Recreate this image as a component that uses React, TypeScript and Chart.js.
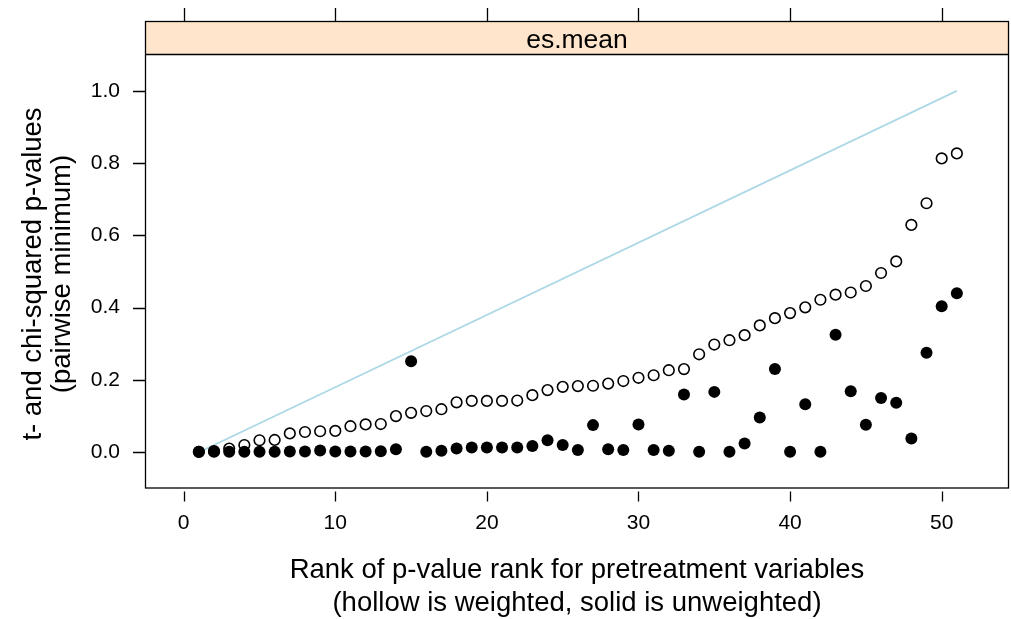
import { useEffect, useRef } from "react";
import { Chart, registerables } from "chart.js";

Chart.register(...registerables);

const RANKS = [
  1, 2, 3, 4, 5, 6, 7, 8, 9, 10, 11, 12, 13, 14, 15, 16, 17, 18, 19, 20, 21, 22, 23, 24, 25, 26,
  27, 28, 29, 30, 31, 32, 33, 34, 35, 36, 37, 38, 39, 40, 41, 42, 43, 44, 45, 46, 47, 48, 49, 50, 51,
];

// hollow = weighted
const WEIGHTED = [
  0.001, 0.003, 0.01, 0.02, 0.033, 0.034, 0.052, 0.056, 0.058, 0.059, 0.072, 0.077, 0.078, 0.1,
  0.109, 0.114, 0.119, 0.138, 0.142, 0.142, 0.142, 0.143, 0.158, 0.172, 0.181, 0.183, 0.184, 0.19,
  0.197, 0.206, 0.213, 0.227, 0.23, 0.271, 0.298, 0.31, 0.324, 0.351, 0.371, 0.385, 0.401, 0.422,
  0.436, 0.442, 0.46, 0.496, 0.528, 0.629, 0.689, 0.813, 0.827,
];

// solid = unweighted
const UNWEIGHTED = [
  0.001, 0.001, 0.001, 0.001, 0.001, 0.001, 0.002, 0.002, 0.005, 0.002, 0.002, 0.002, 0.003, 0.008,
  0.252, 0.001, 0.004, 0.01, 0.013, 0.013, 0.013, 0.013, 0.017, 0.033, 0.02, 0.006, 0.075, 0.008,
  0.006, 0.077, 0.006, 0.004, 0.16, 0.001, 0.167, 0.001, 0.024, 0.096, 0.23, 0.001, 0.133, 0.001,
  0.325, 0.169, 0.076, 0.15, 0.137, 0.038, 0.275, 0.404, 0.44,
];

const REF_X = [1, 51];
const REF_Y = [0, 1];

const X_TICKS = [0, 10, 20, 30, 40, 50];
const Y_TICKS = [0, 0.2, 0.4, 0.6, 0.8, 1.0];

const STRIP_LABEL = "es.mean";
const X_TITLE = ["Rank of p-value rank for pretreatment variables", "(hollow is weighted, solid is unweighted)"];
const Y_TITLE = ["t- and chi-squared p-values", "(pairwise minimum)"];

const FONT = "'Liberation Sans', Arial, sans-serif";

export default function App() {
  const ref = useRef<HTMLCanvasElement | null>(null);

  useEffect(() => {
    document.body.style.margin = "0";
    const canvas = ref.current;
    if (!canvas) return;

    const framePlugin = {
      id: "latticeFrame",
      beforeDraw(chart: any) {
        const ctx = chart.ctx;
        const a = chart.chartArea;
        ctx.save();
        ctx.fillStyle = "#ffffff";
        ctx.fillRect(0, 0, chart.width, chart.height);
        ctx.fillStyle = "#FFE5CC";
        ctx.fillRect(a.left, 21.5, a.right - a.left, a.top - 21.5);
        ctx.restore();
      },
      afterDraw(chart: any) {
        const ctx = chart.ctx;
        const a = chart.chartArea;
        const xs = chart.scales.x;
        const ys = chart.scales.y;
        ctx.save();
        ctx.strokeStyle = "#000000";
        ctx.lineWidth = 1.3;
        ctx.strokeRect(a.left + 0.5, 21.5, a.right - a.left - 1, a.bottom - 21.5);
        ctx.beginPath();
        ctx.moveTo(a.left, a.top + 0.5);
        ctx.lineTo(a.right, a.top + 0.5);
        ctx.stroke();
        ctx.beginPath();
        for (const v of X_TICKS) {
          const px = Math.round(xs.getPixelForValue(v)) + 0.5;
          ctx.moveTo(px, 8);
          ctx.lineTo(px, 21.5);
          ctx.moveTo(px, a.bottom + 3.5);
          ctx.lineTo(px, a.bottom + 13.5);
        }
        for (const v of Y_TICKS) {
          const py = Math.round(ys.getPixelForValue(v)) + 0.5;
          ctx.moveTo(133, py);
          ctx.lineTo(a.left, py);
        }
        ctx.stroke();
        ctx.fillStyle = "#000000";
        ctx.font = `26.5px ${FONT}`;
        ctx.textAlign = "center";
        ctx.textBaseline = "alphabetic";
        const cx = (a.left + a.right) / 2;
        ctx.fillText(STRIP_LABEL, cx, 47.5);
        ctx.font = `27.5px ${FONT}`;
        ctx.textBaseline = "middle";
        ctx.fillText(X_TITLE[0], cx, 570);
        ctx.fillText(X_TITLE[1], cx, 603);
        const cy = (a.top + a.bottom) / 2 + 3;
        ctx.translate(33, cy);
        ctx.rotate(-Math.PI / 2);
        ctx.fillText(Y_TITLE[0], 0, 0);
        ctx.fillText(Y_TITLE[1], 0, 29);
        ctx.restore();
      },
    };

    const chart = new Chart(canvas, {
      type: "scatter",
      data: {
        datasets: [
          {
            label: "unweighted",
            data: RANKS.map((r, i) => ({ x: r, y: UNWEIGHTED[i] })),
            pointRadius: 6,
            pointBackgroundColor: "#000000",
            pointBorderWidth: 0,
            pointBorderColor: "#000000",
            showLine: false,
            order: 0,
          },
          {
            label: "weighted",
            data: RANKS.map((r, i) => ({ x: r, y: WEIGHTED[i] })),
            pointRadius: 5.3,
            pointBackgroundColor: "rgba(0,0,0,0)",
            pointBorderColor: "#000000",
            pointBorderWidth: 1.6,
            showLine: false,
            order: 1,
          },
          {
            label: "reference",
            data: REF_X.map((x, i) => ({ x, y: REF_Y[i] })),
            showLine: true,
            borderColor: "#ADD8E6",
            borderWidth: 1.8,
            pointRadius: 0,
            fill: false,
            order: 2,
          },
        ],
      },
      options: {
        animation: false,
        responsive: false,
        devicePixelRatio: 1,
        layout: { autoPadding: false, padding: { left: 0, top: 54, right: 2, bottom: 0 } },
        plugins: {
          legend: { display: false },
          tooltip: { enabled: false },
          title: { display: false },
        },
        scales: {
          x: {
            type: "linear",
            min: -2.553,
            max: 54.44,
            grid: { display: false, drawTicks: false },
            border: { display: false },
            afterBuildTicks: (s: any) => {
              s.ticks = X_TICKS.map((v) => ({ value: v }));
            },
            afterFit: (s: any) => {
              s.height = 131;
              s.paddingLeft = 0;
              s.paddingRight = 0;
            },
            ticks: {
              padding: 23,
              maxRotation: 0,
              autoSkip: false,
              color: "#000000",
              font: { family: FONT, size: 21 },
              callback: (v: any) => String(v),
            },
          },
          y: {
            type: "linear",
            min: -0.099,
            max: 1.102,
            grid: { display: false, drawTicks: false },
            border: { display: false },
            afterBuildTicks: (s: any) => {
              s.ticks = Y_TICKS.map((v) => ({ value: v }));
            },
            afterFit: (s: any) => {
              s.width = 145;
              s.paddingTop = 0;
              s.paddingBottom = 0;
            },
            ticks: {
              padding: 25,
              autoSkip: false,
              color: "#000000",
              font: { family: FONT, size: 21 },
              callback: (v: any) => Number(v).toFixed(1),
            },
          },
        },
      },
      plugins: [framePlugin],
    });

    return () => chart.destroy();
  }, []);

  return <canvas ref={ref} width={1011} height={619} style={{ display: "block" }} />;
}
